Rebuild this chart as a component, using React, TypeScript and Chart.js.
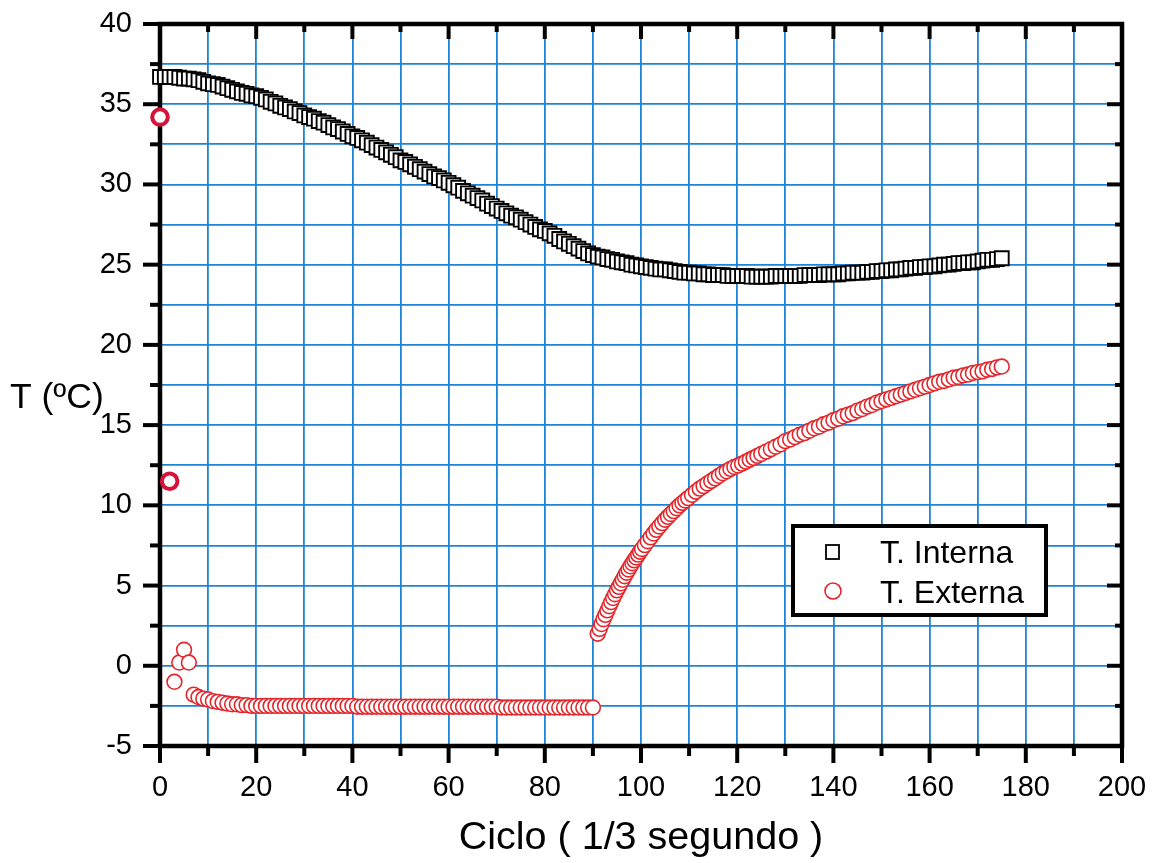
import React, { useEffect, useRef } from 'react';
import { Chart, registerables } from 'chart.js';

Chart.register(...registerables);

const FONT = '"Liberation Sans", Arial, Helvetica, sans-serif';

// Ciclo values of the internal-temperature squares
const cyclesInterna = [
  0, 1, 2, 3, 4, 5, 6, 7, 8, 9, 10, 11, 12, 13, 14, 15, 16, 17, 18, 19,
  20, 21, 22, 23, 24, 25, 26, 27, 28, 29, 30, 31, 32, 33, 34, 35, 36, 37, 38, 39,
  40, 41, 42, 43, 44, 45, 46, 47, 48, 49, 50, 51, 52, 53, 54, 55, 56, 57, 58, 59,
  60, 61, 62, 63, 64, 65, 66, 67, 68, 69, 70, 71, 72, 73, 74, 75, 76, 77, 78, 79,
  80, 81, 82, 83, 84, 85, 86, 87, 88, 89, 90, 91, 92, 93, 94, 95, 96, 97, 98, 99,
  100, 101, 102, 103, 104, 105, 106, 107, 108, 109, 110, 111, 112, 113, 114, 115, 116, 117, 118, 119,
  120, 121, 122, 123, 124, 125, 126, 127, 128, 129, 130, 131, 132, 133, 134, 135, 136, 137, 138, 139,
  140, 141, 142, 143, 144, 145, 146, 147, 148, 149, 150, 151, 152, 153, 154, 155, 156, 157, 158, 159,
  160, 161, 162, 163, 164, 165, 166, 167, 168, 169, 170, 171, 172, 173, 174, 175,
];

const tInterna = [
  36.7, 36.7, 36.7, 36.7, 36.65, 36.6, 36.6, 36.55, 36.5, 36.4,
  36.3, 36.25, 36.2, 36.1, 36.0, 35.9, 35.8, 35.7, 35.65, 35.55,
  35.5, 35.4, 35.3, 35.15, 35.05, 34.9, 34.8, 34.7, 34.55, 34.45,
  34.3, 34.2, 34.1, 33.95, 33.85, 33.7, 33.55, 33.45, 33.3, 33.15,
  33.0, 32.9, 32.75, 32.6, 32.45, 32.3, 32.15, 32.0, 31.85, 31.7,
  31.5, 31.4, 31.25, 31.1, 30.95, 30.8, 30.65, 30.5, 30.4, 30.25,
  30.1, 29.95, 29.8, 29.6, 29.45, 29.3, 29.15, 29.0, 28.8, 28.65,
  28.5, 28.35, 28.2, 28.05, 27.95, 27.8, 27.65, 27.5, 27.35, 27.2,
  27.1, 26.95, 26.8, 26.6, 26.45, 26.3, 26.15, 26.0, 25.85, 25.7,
  25.6, 25.5, 25.45, 25.35, 25.3, 25.2, 25.15, 25.1, 25.0, 24.95,
  24.9, 24.85, 24.8, 24.75, 24.7, 24.7, 24.65, 24.6, 24.55, 24.5,
  24.5, 24.45, 24.45, 24.4, 24.4, 24.35, 24.35, 24.35, 24.3, 24.3,
  24.3, 24.3, 24.3, 24.25, 24.25, 24.25, 24.25, 24.25, 24.3, 24.3,
  24.3, 24.3, 24.3, 24.3, 24.35, 24.35, 24.35, 24.35, 24.4, 24.4,
  24.4, 24.4, 24.45, 24.45, 24.5, 24.5, 24.5, 24.55, 24.55, 24.6,
  24.6, 24.65, 24.65, 24.7, 24.7, 24.75, 24.8, 24.8, 24.85, 24.85,
  24.9, 24.9, 24.95, 25.0, 25.0, 25.05, 25.1, 25.1, 25.15, 25.15,
  25.2, 25.25, 25.3, 25.3, 25.35, 25.4,
];

// Ciclo values of the external-temperature circles (denser where the curve climbs)
const cyclesExterna = [
  0, 2, 3, 4, 5, 6, 7, 8, 9, 10, 11, 12, 13, 14, 15, 16, 17, 18, 19,
  20, 21, 22, 23, 24, 25, 26, 27, 28, 29, 30, 31, 32, 33, 34, 35, 36, 37, 38, 39,
  40, 41, 42, 43, 44, 45, 46, 47, 48, 49, 50, 51, 52, 53, 54, 55, 56, 57, 58, 59,
  60, 61, 62, 63, 64, 65, 66, 67, 68, 69, 70, 71, 72, 73, 74, 75, 76, 77, 78, 79,
  80, 81, 82, 83, 84, 85, 86, 87, 88, 89, 90,
  91, 91.4, 91.8, 92.2, 92.6, 93, 93.4, 93.8, 94.2, 94.6, 95, 95.4, 95.8, 96.2, 96.6,
  97, 97.4, 97.8, 98.2, 98.6, 99, 99.4, 99.8,
  100.2, 100.8, 101.4, 102, 102.6, 103.2, 103.8, 104.4, 105, 105.6, 106.2, 106.8,
  107.4, 108, 108.6, 109.2, 109.8,
  110.6, 111.4, 112.2, 113, 113.8, 114.6, 115.4, 116.2, 117, 117.8, 118.6, 119.4,
  120.2, 121, 121.8, 122.6, 123.4, 124.2, 125,
  126, 127, 128, 129, 130, 131, 132, 133, 134, 135, 136, 137, 138, 139,
  140, 141, 142, 143, 144, 145, 146, 147, 148, 149, 150, 151, 152, 153, 154, 155, 156, 157, 158, 159,
  160, 161, 162, 163, 164, 165, 166, 167, 168, 169, 170, 171, 172, 173, 174, 175,
];

const tExterna = [
  34.2, 11.5, -1.0, 0.2, 1.0, 0.2, -1.8, -1.95, -2.05,
  -2.1, -2.2, -2.25, -2.3, -2.35, -2.4, -2.4, -2.45, -2.45, -2.5,
  -2.5, -2.5, -2.5, -2.5, -2.5, -2.5, -2.5, -2.5, -2.5, -2.5,
  -2.5, -2.5, -2.5, -2.5, -2.5, -2.5, -2.5, -2.5, -2.5, -2.5,
  -2.5, -2.55, -2.55, -2.55, -2.55, -2.55, -2.55, -2.55, -2.55, -2.55,
  -2.55, -2.55, -2.55, -2.55, -2.55, -2.55, -2.55, -2.55, -2.55, -2.55,
  -2.55, -2.55, -2.55, -2.55, -2.55, -2.55, -2.55, -2.55, -2.55, -2.55,
  -2.55, -2.6, -2.6, -2.6, -2.6, -2.6, -2.6, -2.6, -2.6, -2.6,
  -2.6, -2.6, -2.6, -2.6, -2.6, -2.6, -2.6, -2.6, -2.6, -2.6,
  -2.6,
  2.0, 2.3, 2.6, 2.9, 3.17, 3.45, 3.71, 3.97, 4.22, 4.46, 4.7, 4.92, 5.14, 5.36, 5.58,
  5.8, 6.0, 6.2, 6.39, 6.57, 6.75, 6.93, 7.11,
  7.28, 7.52, 7.76, 8.0, 8.24, 8.47, 8.68, 8.89, 9.1, 9.28, 9.46, 9.64,
  9.82, 10.0, 10.15, 10.3, 10.45,
  10.65, 10.85, 11.04, 11.2, 11.36, 11.52, 11.68, 11.84, 12.0, 12.12, 12.27, 12.39,
  12.48, 12.6, 12.72, 12.84, 12.96, 13.08, 13.2,
  13.35, 13.5, 13.65, 13.8, 14.0, 14.1, 14.25, 14.4, 14.5, 14.65, 14.8, 14.9, 15.05, 15.15,
  15.3, 15.4, 15.55, 15.65, 15.75, 15.9, 16.0, 16.15, 16.25, 16.4,
  16.5, 16.6, 16.7, 16.8, 16.9, 17.0, 17.1, 17.2, 17.3, 17.4,
  17.5, 17.6, 17.7, 17.75, 17.85, 17.95, 18.0, 18.1, 18.15, 18.25,
  18.3, 18.35, 18.45, 18.5, 18.6, 18.65,
];

const seriesLabels = ['T. Interna', 'T. Externa'];
const xAxisTitle = 'Ciclo ( 1/3 segundo )';
const yAxisTitle = 'T (ºC)';

const GRID_BLUE = '#1d84d8';
const RED = '#e3262b';
const RED_BOLD = '#d5123a';

const framePlugin = {
  id: 'frameAndTicks',
  beforeDatasetsDraw(chart: any) {
    const { ctx, chartArea, scales } = chart;
    const { left, right, top, bottom } = chartArea;
    const x = scales.x;
    const y = scales.y;
    ctx.save();
    ctx.strokeStyle = '#000';
    ctx.lineCap = 'butt';
    ctx.lineWidth = 4;
    const line = (x1: number, y1: number, x2: number, y2: number) => {
      ctx.beginPath();
      ctx.moveTo(x1, y1);
      ctx.lineTo(x2, y2);
      ctx.stroke();
    };
    x.ticks.forEach((t: any) => {
      const px = x.getPixelForValue(t.value);
      const major = Math.round(t.value) % 20 === 0;
      line(px, bottom, px, bottom + (major ? 17 : 10));
      line(px, top, px, top + (major ? 15 : 8));
    });
    y.ticks.forEach((t: any) => {
      const py = y.getPixelForValue(t.value);
      const major = Math.abs(t.value % 5) < 1e-6;
      line(left - (major ? 17 : 10), py, left, py);
      line(right - (major ? 15 : 7), py, right, py);
    });
    ctx.lineWidth = 4.5;
    ctx.strokeRect(left, top, right - left, bottom - top);

    ctx.fillStyle = '#000';
    ctx.font = `35.5px ${FONT}`;
    ctx.textAlign = 'left';
    ctx.textBaseline = 'alphabetic';
    ctx.fillText(yAxisTitle, 10, 408);
    ctx.restore();
  },
};

const legendPlugin = {
  id: 'boxLegend',
  afterDatasetsDraw(chart: any) {
    const { ctx } = chart;
    const ds = chart.data.datasets;
    const bx = 793, by = 526, bw = 253, bh = 89;
    ctx.save();
    ctx.fillStyle = '#fff';
    ctx.fillRect(bx, by, bw, bh);
    ctx.strokeStyle = '#000';
    ctx.lineWidth = 4;
    ctx.strokeRect(bx, by, bw, bh);

    ctx.lineWidth = 1.8;
    ctx.strokeStyle = '#000';
    ctx.fillStyle = '#fff';
    ctx.fillRect(826, 545, 13, 14);
    ctx.strokeRect(826, 545, 13, 14);

    ctx.strokeStyle = RED;
    ctx.lineWidth = 1.6;
    ctx.beginPath();
    ctx.arc(833, 591, 8, 0, Math.PI * 2);
    ctx.stroke();

    ctx.fillStyle = '#000';
    ctx.font = `32px ${FONT}`;
    ctx.textAlign = 'left';
    ctx.textBaseline = 'alphabetic';
    ctx.fillText(ds[0].label, 880, 563);
    ctx.fillText(ds[1].label, 880, 603);
    ctx.restore();
  },
};

export default function App() {
  const canvasRef = useRef<HTMLCanvasElement | null>(null);

  useEffect(() => {
    document.body.style.margin = '0';
    document.body.style.background = '#fff';
    const canvas = canvasRef.current;
    if (!canvas) return;

    const interna = cyclesInterna.map((c, i) => ({ x: c, y: tInterna[i] }));
    const externa = cyclesExterna.map((c, i) => ({ x: c, y: tExterna[i] }));

    const noPad = (s: any) => {
      s.paddingLeft = 0;
      s.paddingRight = 0;
      s.paddingTop = 0;
      s.paddingBottom = 0;
    };

    const chart = new Chart(canvas, {
      type: 'scatter',
      data: {
        datasets: [
          {
            label: seriesLabels[0],
            data: interna,
            pointStyle: 'rect',
            pointRadius: 9.8,
            pointBorderWidth: 1.9,
            pointBorderColor: '#000',
            pointBackgroundColor: '#fff',
            clip: false,
          } as any,
          {
            label: seriesLabels[1],
            data: externa,
            pointStyle: 'circle',
            pointRadius: (c: any) => (c.dataIndex <= 1 ? 7.8 : 7.4),
            pointBorderWidth: (c: any) => (c.dataIndex <= 1 ? 4 : 1.6),
            pointBorderColor: (c: any) => (c.dataIndex <= 1 ? RED_BOLD : RED),
            pointBackgroundColor: '#fff',
            clip: false,
          } as any,
        ],
      },
      options: {
        responsive: false,
        animation: false,
        events: [],
        layout: { padding: { top: 24, right: 31, bottom: 0, left: 0 } },
        plugins: {
          legend: { display: false },
          tooltip: { enabled: false },
          title: { display: false },
        },
        scales: {
          x: {
            type: 'linear',
            min: 0,
            max: 200,
            afterFit: (s: any) => {
              s.height = 117;
              noPad(s);
            },
            border: { display: false },
            grid: {
              color: GRID_BLUE,
              lineWidth: 1.8,
              drawTicks: false,
            },
            ticks: {
              stepSize: 10,
              autoSkip: false,
              maxRotation: 0,
              padding: 25,
              color: '#000',
              font: { family: FONT, size: 29 },
              callback: (v: any) => (Math.round(v) % 20 === 0 ? String(v) : ''),
            },
            title: {
              display: true,
              text: xAxisTitle,
              color: '#000',
              font: { family: FONT, size: 39.5 },
              padding: { top: 0, bottom: 1 },
            },
          },
          y: {
            type: 'linear',
            min: -5,
            max: 40,
            afterFit: (s: any) => {
              s.width = 160;
              noPad(s);
            },
            border: { display: false },
            grid: {
              color: GRID_BLUE,
              lineWidth: 1.8,
              drawTicks: false,
            },
            ticks: {
              stepSize: 2.5,
              autoSkip: false,
              padding: 28,
              color: '#000',
              font: { family: FONT, size: 29 },
              callback: (v: any) => (Math.abs(v % 5) < 1e-6 ? String(v) : ''),
            },
          },
        },
      } as any,
      plugins: [framePlugin, legendPlugin],
    });

    return () => {
      chart.destroy();
    };
  }, []);

  return (
    <div style={{ width: 1153, height: 863, background: '#fff' }}>
      <canvas ref={canvasRef} width={1153} height={863} style={{ display: 'block' }} />
    </div>
  );
}
